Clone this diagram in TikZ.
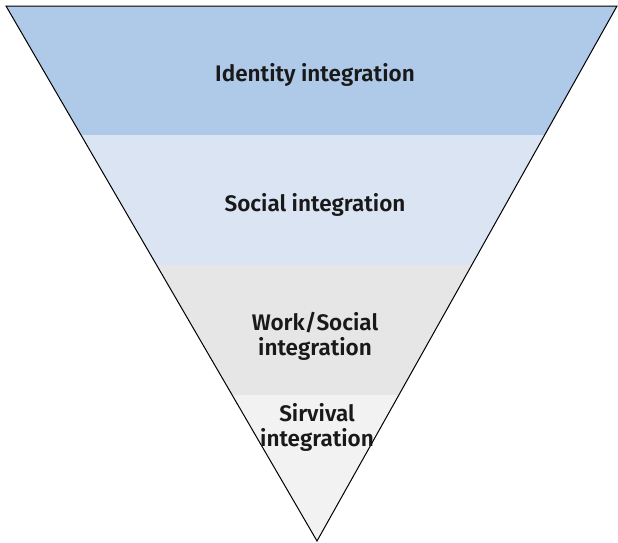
\documentclass[tikz,border=0pt]{standalone}
\usepackage{fontspec}
\setmainfont{Fira Sans}[BoldFont={Fira Sans SemiBold}]
\usetikzlibrary{positioning}

\definecolor{identityfill}{RGB}{175,201,232}
\definecolor{socialfill}{RGB}{218,228,243}
\definecolor{workfill}{RGB}{230,230,230}
\definecolor{survivalfill}{RGB}{242,242,242}

\tikzset{
  layertext/.style={font=\fontsize{22.5}{25}\selectfont\bfseries, align=center, inner sep=0.75pt, text=black!90},
}

\begin{document}
\begin{tikzpicture}[x=1pt,y=1pt,yscale=-1,xscale=1]
\useasboundingbox (0,0) rectangle (618,542);

% corners of the funnel
\coordinate (tl) at (6,6);
\coordinate (tr) at (617,6);
\coordinate (apex) at (317,541);

% layer fills, cut to the funnel
\begin{scope}
\clip (tl) -- (tr) -- (apex) -- cycle;
\fill [identityfill] (0,0) rectangle (618,135);
\fill [socialfill] (0,135) rectangle (618,265);
\fill [workfill] (0,265) rectangle (618,395);
\fill [survivalfill] (0,395) rectangle (618,542);
\end{scope}

%Shape: Triangle
\draw [line width=1] (tl) -- (tr) -- (apex) -- cycle;

% Text Node
\node [layertext] (identity) at (315,75) {Identity integration};
% Text Node
\node [layertext] (social) at (315,205) {Social integration};
% Text Node
\node [layertext] (work) at (315,336) {Work/Social\\integration};
% Text Node
\node [layertext] (survival) at (317,427) {Sirvival\\integration};

\end{tikzpicture}
\end{document}
